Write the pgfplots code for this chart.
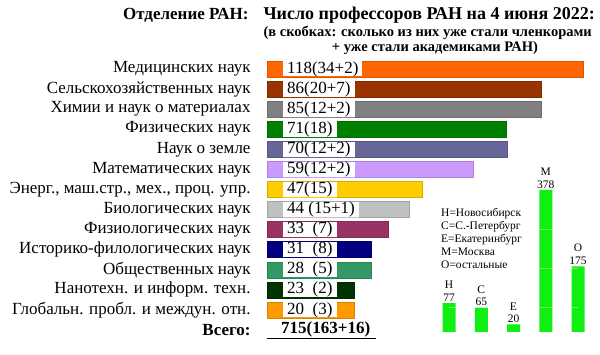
\documentclass[border=0pt]{standalone}
\usepackage{fontspec}
\setmainfont{Liberation Serif}
\usepackage{pgfplots}
\pgfplotsset{compat=1.18}
\definecolor{c1}{HTML}{FF6600}
\definecolor{c2}{HTML}{993300}
\definecolor{c3}{HTML}{808080}
\definecolor{c4}{HTML}{008000}
\definecolor{c5}{HTML}{666699}
\definecolor{c6}{HTML}{CC99FF}
\definecolor{c7}{HTML}{FFCC00}
\definecolor{c8}{HTML}{C0C0C0}
\definecolor{c9}{HTML}{993366}
\definecolor{c10}{HTML}{000080}
\definecolor{c11}{HTML}{339966}
\definecolor{c12}{HTML}{003300}
\definecolor{c13}{HTML}{FF9900}
\definecolor{gbar}{HTML}{11EE11}
\tikzset{vlab/.style={fill=white, anchor=west, inner xsep=4pt, inner ysep=0pt,
  minimum height=15.5pt, font=\fontsize{17}{17}\selectfont,
  append after command={(\tikzlastnode.south west) edge[draw=#1, line width=0.9pt] (\tikzlastnode.south east)}}}
\begin{document}
\begin{tikzpicture}[x=1pt,y=1pt]
\useasboundingbox (0pt,0pt) rectangle (600pt,355pt);
% titles
\node[anchor=east, font=\bfseries\fontsize{17}{17}\selectfont] at (252pt,340pt) {Отделение РАН:};
\node[anchor=west, font=\bfseries\fontsize{18}{18}\selectfont] at (260pt,340pt) {Число профессоров РАН на 4 июня 2022:};
\node[anchor=west, font=\bfseries\fontsize{14.5}{14.5}\selectfont] at (260pt,322pt) {(в скобках: сколько из них уже стали членкорами};
\node[anchor=center, font=\bfseries\fontsize{14.5}{14.5}\selectfont] at (435pt,307pt) {+ уже стали академиками РАН)};
\begin{axis}[
  at={(267pt,25pt)}, anchor=south west,
  scale only axis, width=316pt, height=261pt,
  xmin=0, xmax=316, ymin=1, ymax=14, y dir=reverse,
  xbar, bar width=16pt, bar shift=0pt,
  clip=false,
  axis line style={draw=none}, tick style={draw=none},
  xtick=\empty, ytick={1,...,14},
  yticklabels={Медицинских наук, Сельскохозяйственных наук, Химии и наук о материалах, Физических наук, Наук о земле, Математических наук, {Энерг., маш.стр., мех., проц. упр.}, Биологических наук, Физиологических наук, Историко-филологических наук, Общественных наук, Нанотехн. и информ. техн., Глобальн. пробл. и междун. отн., \textbf{Всего:}},
  yticklabel style={font=\fontsize{17}{17}\selectfont, anchor=east, inner sep=0pt, xshift=-12pt},
]
\addplot[fill=c1, draw=c1!85!black] coordinates {(316,1)};
\addplot[fill=c2, draw=c2!85!black] coordinates {(274,2)};
\addplot[fill=c3, draw=c3!85!black] coordinates {(274,3)};
\addplot[fill=c4, draw=c4!85!black] coordinates {(239,4)};
\addplot[fill=c5, draw=c5!85!black] coordinates {(240,5)};
\addplot[fill=c6, draw=c6!85!black] coordinates {(206,6)};
\addplot[fill=c7, draw=c7!85!black] coordinates {(155,7)};
\addplot[fill=c8, draw=c8!85!black] coordinates {(142,8)};
\addplot[fill=c9, draw=c9!85!black] coordinates {(121,9)};
\addplot[fill=c10, draw=c10!85!black] coordinates {(104,10)};
\addplot[fill=c11, draw=c11!85!black] coordinates {(104,11)};
\addplot[fill=c12, draw=c12!85!black] coordinates {(87,12)};
\addplot[fill=c13, draw=c13!85!black] coordinates {(87,13)};
\node[vlab=c1] at (axis cs:16,1) {118(34+2)};
\node[vlab=c2] at (axis cs:16,2) {86(20+7)};
\node[vlab=c3] at (axis cs:16,3) {85(12+2)};
\node[vlab=c4] at (axis cs:16,4) {71(18)};
\node[vlab=c5] at (axis cs:16,5) {70(12+2)};
\node[vlab=c6] at (axis cs:16,6) {59(12+2)};
\node[vlab=c7] at (axis cs:16,7) {47(15)};
\node[vlab=c8] at (axis cs:16,8) {44 (15+1)};
\node[vlab=c9] at (axis cs:16,9) {33\ \ (7)};
\node[vlab=c10] at (axis cs:16,10) {31\ \ (8)};
\node[vlab=c11] at (axis cs:16,11) {28\ \ (5)};
\node[vlab=c12] at (axis cs:16,12) {23\ \ (2)};
\node[vlab=c13] at (axis cs:16,13) {20\ \ (3)};
\node[anchor=west, inner sep=0pt, font=\bfseries\fontsize{17}{17}\selectfont] at (axis cs:14,13.95) {715(163+16)};
\draw[black, line width=1pt] (axis cs:0,14.4) -- (axis cs:109,14.4);
\end{axis}
% legend of cities
\node[anchor=north west, align=left, inner sep=0pt, font=\fontsize{11.5}{13}\selectfont] at (441pt,147pt) {Н=Новосибирск\\С=С.-Петербург\\Е=Екатеринбург\\М=Москва\\О=остальные};
\begin{axis}[
  at={(449pt,23pt)}, anchor=south west,
  scale only axis, width=129pt, height=142pt,
  xmin=1, xmax=5, ymin=0, ymax=378,
  ybar, bar width=13pt, bar shift=0pt,
  clip=false, axis on top,
  axis line style={draw=none}, tick style={draw=none},
  xtick=\empty, ytick={66.5,170.4,274.2}, yticklabels={},
  ymajorgrids, grid style={white, opacity=0.35, line width=0.6pt},
  nodes near coords, point meta=explicit symbolic,
  every node near coord/.append style={align=center, font=\fontsize{11.5}{12.5}\selectfont, inner sep=1.5pt},
]
\addplot[fill=gbar, draw=none] coordinates {(1,77)[Н\\77] (2,65)[С\\65] (3,20)[Е\\20] (4,378)[М\\378] (5,175)[О\\175]};
\end{axis}
\end{tikzpicture}
\end{document}
